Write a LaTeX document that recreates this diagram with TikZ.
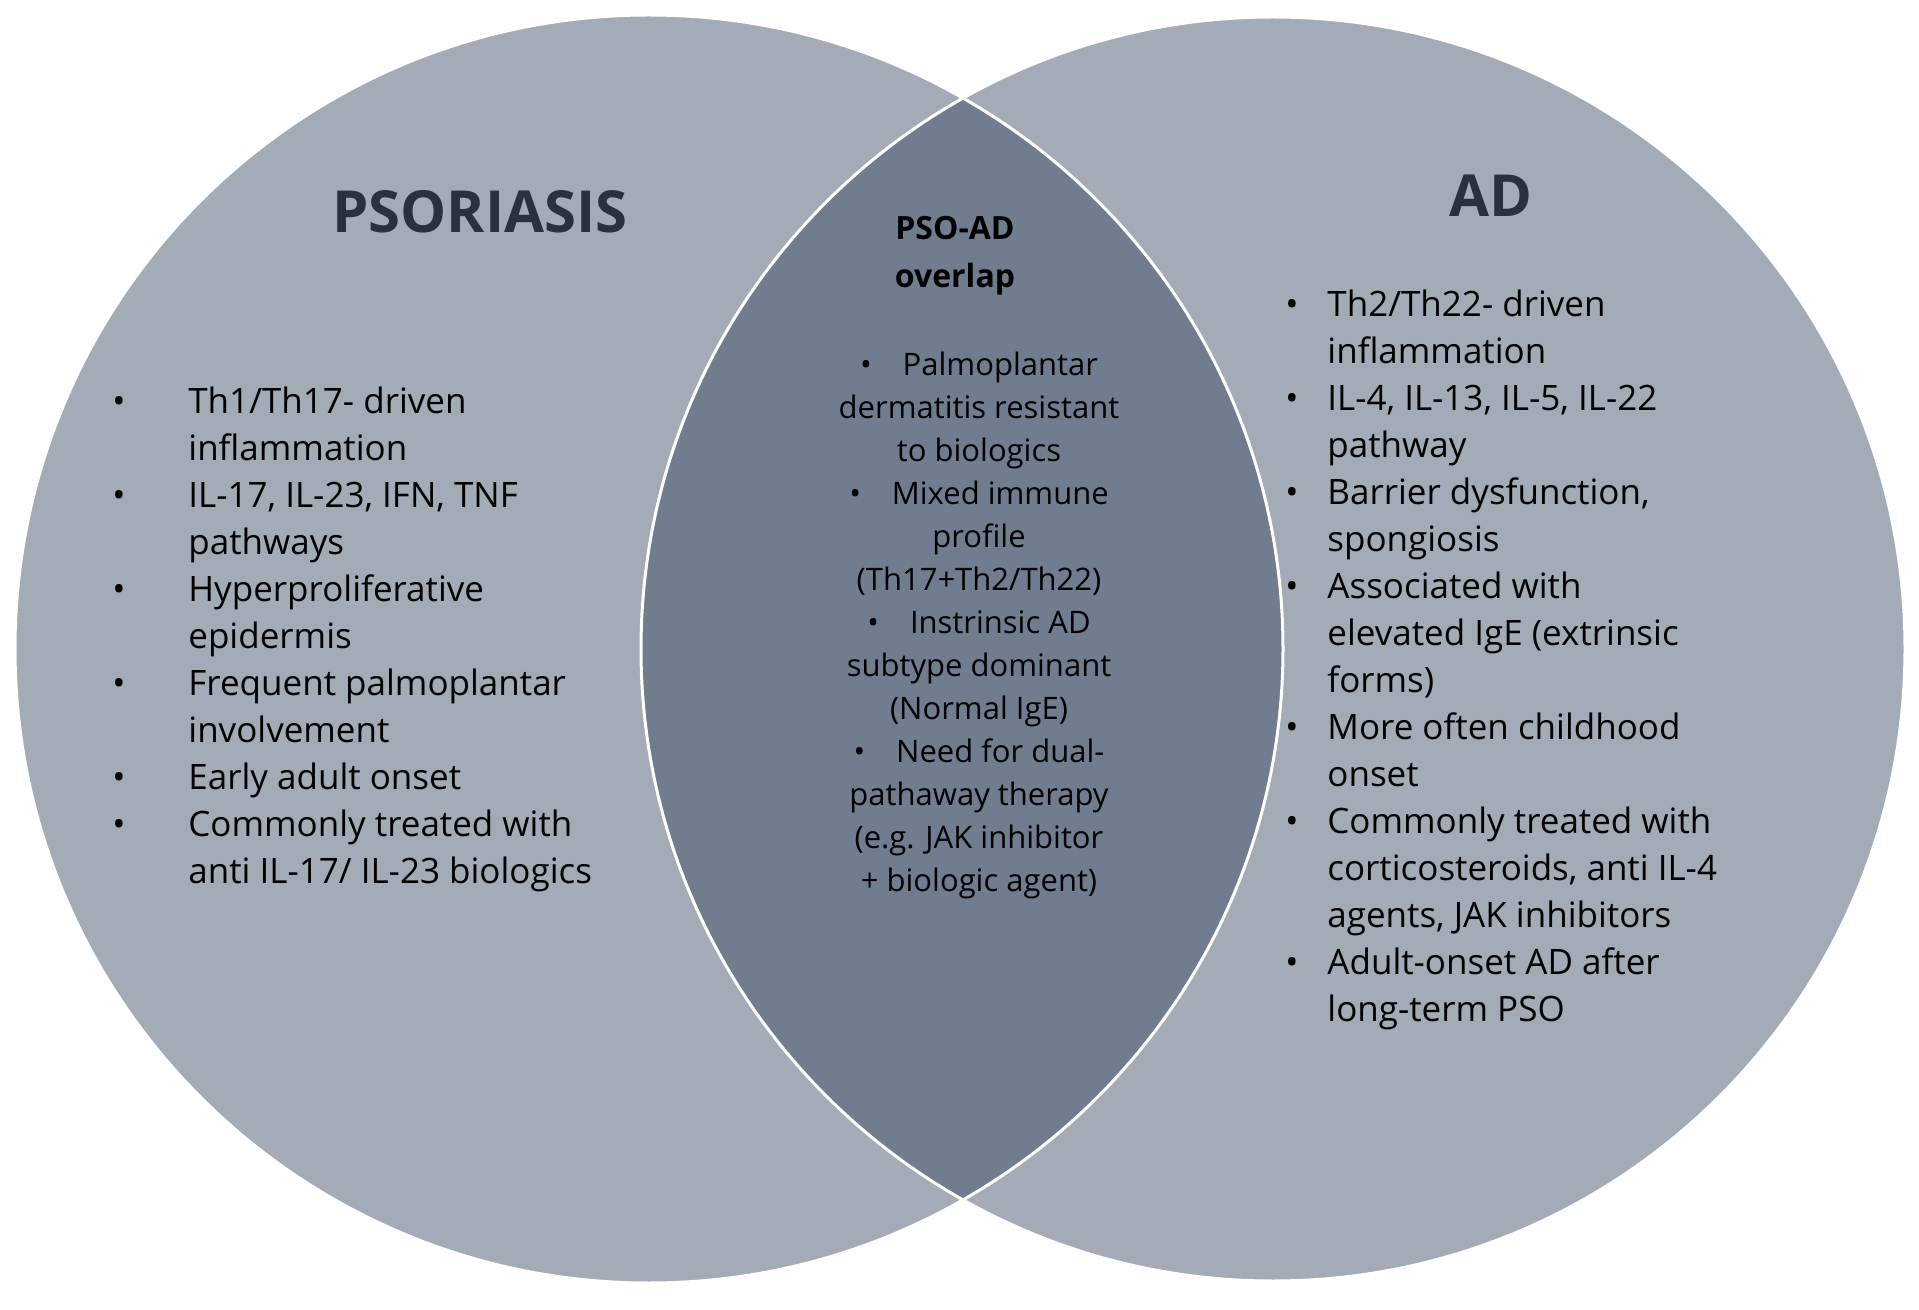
\documentclass[tikz,border=0pt]{standalone}
\usepackage{fontspec}
\setmainfont{Open Sans}
\definecolor{outer}{HTML}{A3ABB6}
\definecolor{inner}{HTML}{6F7D8F}
\definecolor{ttl}{HTML}{28313C}
\begin{document}
\begin{tikzpicture}[x=0.5pt,y=-0.5pt,
  lst/.style={anchor=north west,inner sep=0pt,text=black,font=\fontsize{17.5}{23.5}\selectfont},
  mid/.style={anchor=north,inner sep=0pt,align=center,text=black,font=\fontsize{15.5}{21.5}\selectfont}]
\useasboundingbox (0,0) rectangle (1919,1310);
\fill[white] (0,0) rectangle (1919,1310);
\fill[outer] (649,649) circle (634);
\fill[outer] (1273,649) circle (632);
\begin{scope}
\clip (649,649) circle (634);
\fill[inner] (1273,649) circle (632);
\end{scope}
\draw[white,line width=1.5pt] (649,649) circle (634);
\draw[white,line width=1.5pt] (1273,649) circle (632);
\node[text=ttl,font=\fontsize{29}{34}\selectfont\bfseries] (t1) at (480,212) {PSORIASIS};
\node[text=ttl,font=\fontsize{29}{34}\selectfont\bfseries] (t2) at (1491,196) {AD};
\node[text=black,align=center,font=\fontsize{16}{24}\selectfont\bfseries] (t3) at (955,256) {PSO-AD\\overlap};
\node[lst] (l1) at (112,380) {\begin{tabular}{@{}p{38pt}@{}l@{}}
\textbullet & Th1/Th17- driven\\ & inflammation\\
\textbullet & IL-17, IL-23, IFN, TNF\\ & pathways\\
\textbullet & Hyperproliferative\\ & epidermis\\
\textbullet & Frequent palmoplantar\\ & involvement\\
\textbullet & Early adult onset\\
\textbullet & Commonly treated with\\ & anti IL-17/ IL-23 biologics
\end{tabular}};
\node[lst] (l2) at (1285,283) {\begin{tabular}{@{}p{21pt}@{}l@{}}
\textbullet & Th2/Th22- driven\\ & inflammation\\
\textbullet & IL-4, IL-13, IL-5, IL-22\\ & pathway\\
\textbullet & Barrier dysfunction,\\ & spongiosis\\
\textbullet & Associated with\\ & elevated IgE (extrinsic\\ & forms)\\
\textbullet & More often childhood\\ & onset\\
\textbullet & Commonly treated with\\ & corticosteroids, anti IL-4\\ & agents, JAK inhibitors\\
\textbullet & Adult-onset AD after\\ & long-term PSO
\end{tabular}};
\node[mid] (m) at (979,352) {\textbullet\quad Palmoplantar\\dermatitis resistant\\to biologics\\
\textbullet\quad Mixed immune\\profile\\(Th17+Th2/Th22)\\
\textbullet\quad Instrinsic AD\\subtype dominant\\(Normal IgE)\\
\textbullet\quad Need for dual-\\pathaway therapy\\(e.g. JAK inhibitor\\+ biologic agent)};
\end{tikzpicture}
\end{document}
